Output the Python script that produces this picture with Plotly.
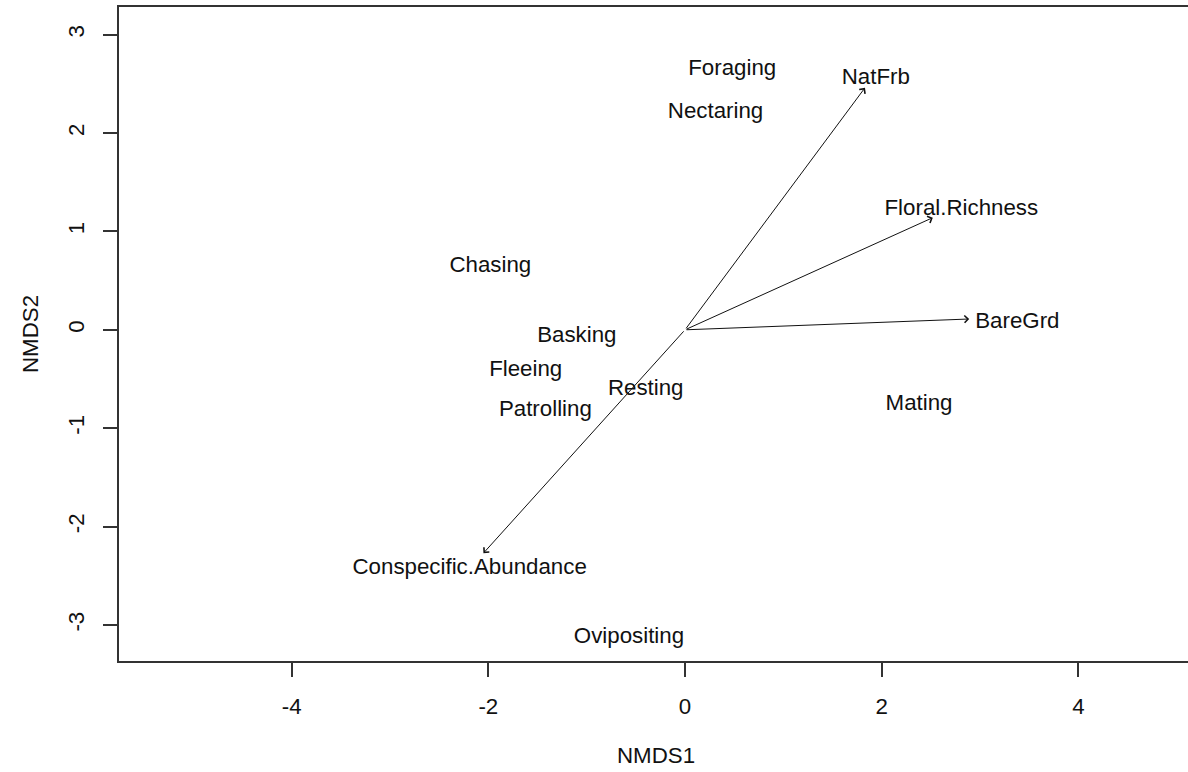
import plotly.graph_objects as go

# Behaviour scores (site/species labels) in NMDS space
behaviours = ["Foraging", "Nectaring", "Chasing", "Basking", "Fleeing",
              "Resting", "Patrolling", "Mating", "Ovipositing"]
beh_x = [0.48, 0.31, -1.98, -1.10, -1.62, -0.40, -1.42, 2.38, -0.57]
beh_y = [2.65, 2.21, 0.64, -0.07, -0.41, -0.61, -0.82, -0.76, -3.13]

# Fitted environmental vectors (arrow tips) and their label positions
env_vars = ["NatFrb", "Floral.Richness", "BareGrd", "Conspecific.Abundance"]
env_x = [1.83, 2.52, 2.89, -2.05]
env_y = [2.46, 1.14, 0.11, -2.27]
env_lab_x = [1.94, 2.81, 3.38, -2.19]
env_lab_y = [2.56, 1.22, 0.08, -2.43]

x_ticks = [-4, -2, 0, 2, 4]
y_ticks = [-3, -2, -1, 0, 1, 2, 3]

FONT = "Liberation Sans, Arial, sans-serif"
INK = "#111111"
AXIS = "#333333"

fig = go.Figure()

fig.add_trace(go.Scatter(
    x=beh_x, y=beh_y, text=behaviours, mode="text",
    textposition="middle center",
    textfont=dict(family=FONT, size=22.3, color=INK),
    hoverinfo="skip", showlegend=False,
))

fig.add_trace(go.Scatter(
    x=env_lab_x, y=env_lab_y, text=env_vars, mode="text",
    textposition="middle center",
    textfont=dict(family=FONT, size=22.3, color=INK),
    hoverinfo="skip", showlegend=False,
))

# Arrows from the origin to each vector tip
for ex, ey in zip(env_x, env_y):
    fig.add_annotation(
        x=ex, y=ey, xref="x", yref="y",
        ax=0, ay=0, axref="x", ayref="y",
        text="", showarrow=True,
        arrowhead=4, arrowsize=1.4, arrowwidth=1, arrowcolor="#111111",
        standoff=0, startstandoff=0,
    )

# Axis titles
fig.add_annotation(
    text="NMDS1", xref="paper", yref="paper", x=0.502, y=0,
    yshift=-94, showarrow=False, yanchor="middle",
    font=dict(family=FONT, size=22.3, color=INK),
)
fig.add_annotation(
    text="NMDS2", xref="paper", yref="paper", x=0, y=0.5,
    xshift=-89, showarrow=False, xanchor="center", textangle=-90,
    font=dict(family=FONT, size=22.3, color=INK),
)

fig.update_xaxes(
    range=[-5.756, 5.115], tickvals=x_ticks, ticktext=[str(v) for v in x_ticks],
    showgrid=False, zeroline=False,
    showline=True, linecolor=AXIS, linewidth=2, mirror=True,
    ticks="outside", ticklen=14, tickwidth=2, tickcolor=AXIS,
    tickfont=dict(family=FONT, size=22.3, color=INK),
    ticklabelstandoff=10,
)
fig.update_yaxes(
    range=[-3.366, 3.281], tickvals=y_ticks, ticktext=[str(v) for v in y_ticks],
    showgrid=False, zeroline=False,
    showline=True, linecolor=AXIS, linewidth=2, mirror=False,
    ticks="outside", ticklen=14, tickwidth=2, tickcolor=AXIS,
    tickangle=-90,
    tickfont=dict(family=FONT, size=22.3, color=INK),
    ticklabelstandoff=10,
)

fig.update_layout(
    width=1188, height=772,
    margin=dict(l=119, r=0, t=7, b=111),
    plot_bgcolor="white", paper_bgcolor="white",
    showlegend=False,
)

fig.write_html("out.html")
